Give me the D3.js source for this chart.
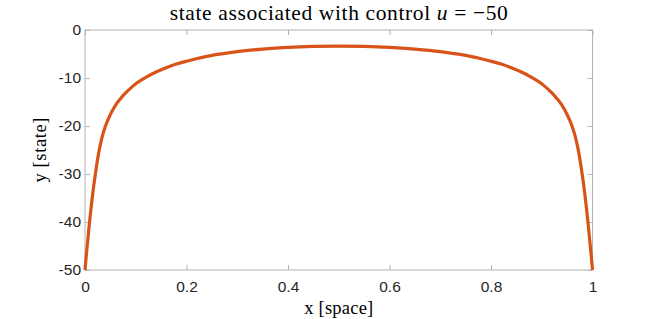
<!DOCTYPE html>
<html>
<head>
<meta charset="utf-8">
<script src="https://cdn.jsdelivr.net/npm/d3@7.9.0/dist/d3.min.js"></script>
<style>
  body { margin: 0; background: #fff; }
  svg { display: block; }
</style>
</head>
<body>
<div id="chart"></div>
<script>
// state values (x in space, y state)
const xs = [0, 0.0025, 0.005, 0.0075, 0.01, 0.0125, 0.015, 0.0175, 0.02, 0.025, 0.03, 0.035, 0.04,
    0.05, 0.06, 0.07, 0.08, 0.09, 0.1, 0.12, 0.14, 0.16, 0.18, 0.2, 0.25, 0.3, 0.35, 0.4, 0.45, 0.5,
    0.55, 0.6, 0.65, 0.7, 0.75, 0.8, 0.82, 0.84, 0.86, 0.88, 0.9, 0.91, 0.92, 0.93, 0.94, 0.95,
    0.96, 0.965, 0.97, 0.975, 0.98, 0.9825, 0.985, 0.9875, 0.99, 0.9925, 0.995, 0.9975, 1];
const ys = [-50, -47.0, -44.3, -41.6, -39.0, -36.6, -34.3, -32.2, -30.3, -26.8, -24.0, -21.8, -20.1,
    -17.6, -15.7, -14.3, -13.1, -12.1, -11.2, -9.85, -8.75, -7.85, -7.1, -6.5, -5.3, -4.5, -3.98, -3.62, -3.42, -3.35,
    -3.42, -3.62, -3.98, -4.5, -5.3, -6.5, -7.1, -7.85, -8.75, -9.85, -11.2, -12.1, -13.1, -14.3, -15.7, -17.6,
    -20.1, -21.8, -24.0, -26.8, -30.3, -32.2, -34.3, -36.6, -39.0, -41.6, -44.3, -47.0, -50];

const xTicks = [0, 0.2, 0.4, 0.6, 0.8, 1];
const yTicks = [0, -10, -20, -30, -40, -50];

const width = 654;
const height = 319;
const margin = { top: 30, right: 61.5, bottom: 49, left: 85 };

const svg = d3.select('#chart')
    .append('svg')
    .attr('width', width)
    .attr('height', height);

const x = d3.scaleLinear().domain([0, 1]).range([margin.left, width - margin.right]);
const y = d3.scaleLinear().domain([-50, 0]).range([height - margin.bottom, margin.top]);

const axisColor = '#b3b3b3';
const textColor = '#262626';
const tickLen = 5;

// box
svg.append('rect')
    .attr('x', x(0))
    .attr('y', y(0))
    .attr('width', x(1) - x(0))
    .attr('height', y(-50) - y(0))
    .attr('fill', 'none')
    .attr('stroke', axisColor)
    .attr('stroke-width', 1);

// ticks pointing inwards, on all four sides
const styleAxis = (g) => {
    g.select('.domain').remove();
    g.selectAll('.tick line').attr('stroke', axisColor);
    g.selectAll('.tick text')
        .attr('fill', textColor)
        .style('font-family', '"Liberation Sans", Arial, sans-serif')
        .style('font-size', '15.5px');
};

svg.append('g')
    .attr('transform', `translate(0,${y(-50)})`)
    .call(d3.axisBottom(x).tickValues(xTicks).tickSize(-tickLen).tickPadding(11)
        .tickFormat((d) => String(d)))
    .call(styleAxis);

svg.append('g')
    .attr('transform', `translate(0,${y(0)})`)
    .call(d3.axisTop(x).tickValues(xTicks).tickSize(-tickLen).tickFormat(''))
    .call(styleAxis);

svg.append('g')
    .attr('transform', `translate(${x(0)},0)`)
    .call(d3.axisLeft(y).tickValues(yTicks).tickSize(-tickLen).tickPadding(4)
        .tickFormat((d) => String(d)))
    .call(styleAxis);

svg.append('g')
    .attr('transform', `translate(${x(1)},0)`)
    .call(d3.axisRight(y).tickValues(yTicks).tickSize(-tickLen).tickFormat(''))
    .call(styleAxis);

// the state curve
const line = d3.line()
    .x((d, i) => x(xs[i]))
    .y((d) => y(d))
    .curve(d3.curveMonotoneX);

svg.append('path')
    .datum(ys)
    .attr('d', line)
    .attr('fill', 'none')
    .attr('stroke', '#D95319')
    .attr('stroke-width', 3.2)
    .attr('stroke-linejoin', 'round');

// labels (latex-ish, so stretched a bit wider than Times)
const serif = '"Liberation Serif", "DejaVu Serif", serif';
const cx = (x(0) + x(1)) / 2;

const title = svg.append('text')
    .attr('x', cx)
    .attr('y', 20)
    .attr('text-anchor', 'middle')
    .attr('fill', '#000')
    .attr('textLength', 338)
    .attr('lengthAdjust', 'spacing')
    .style('font-family', serif)
    .style('font-size', '21.5px');
title.append('tspan').text('state associated with control ');
title.append('tspan').style('font-style', 'italic').text('u');
title.append('tspan').text(' = \u221250');

svg.append('text')
    .attr('x', cx)
    .attr('y', 314)
    .attr('text-anchor', 'middle')
    .attr('fill', '#000')
    .attr('textLength', 69)
    .attr('lengthAdjust', 'spacing')
    .style('font-family', serif)
    .style('font-size', '18.5px')
    .text('x [space]');

svg.append('text')
    .attr('transform', `translate(46,${(y(0) + y(-50)) / 2}) rotate(-90)`)
    .attr('text-anchor', 'middle')
    .attr('fill', '#000')
    .attr('textLength', 65)
    .attr('lengthAdjust', 'spacing')
    .style('font-family', serif)
    .style('font-size', '18.5px')
    .text('y [state]');
</script>
</body>
</html>
